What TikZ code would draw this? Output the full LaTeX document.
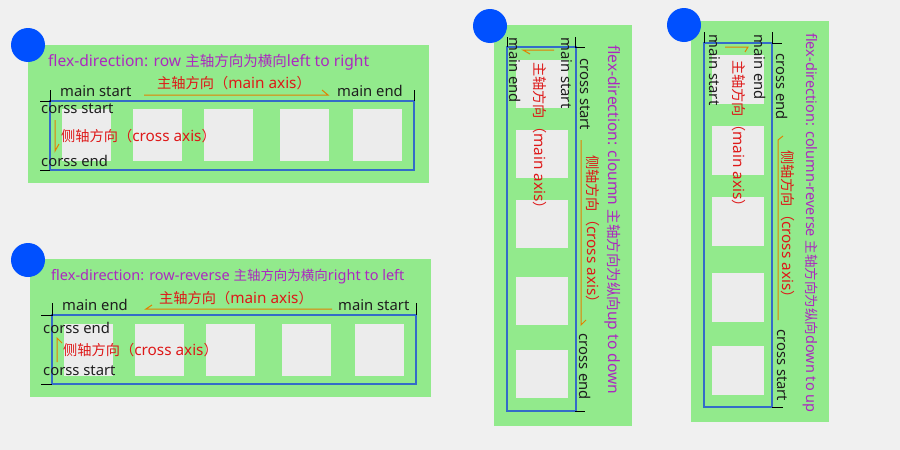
\documentclass[tikz,border=0pt]{standalone}
\usepackage{fontspec}
\setmainfont{Noto Sans}
\newfontfamily\cjk[Scale=0.93]{Noto Sans CJK SC}
\usepackage{xcolor}
\usetikzlibrary{positioning}
\definecolor{bgray}{RGB}{240,240,240}
\definecolor{pgreen}{RGB}{146,234,140}
\definecolor{itemgray}{RGB}{236,236,236}
\definecolor{framblue}{RGB}{52,108,200}
\definecolor{dotblue}{RGB}{0,80,255}
\definecolor{titlepurple}{RGB}{172,40,192}
\definecolor{axisred}{RGB}{222,24,24}
\definecolor{axisorange}{RGB}{226,128,0}
\definecolor{lblblack}{RGB}{30,30,30}

\begin{document}
\begin{tikzpicture}[x=1pt,y=-1pt,
  panel/.style={fill=pgreen,draw=none},
  dot/.style={fill=dotblue,draw=none},
  frame/.style={draw=framblue,line width=2pt},
  item/.style={fill=itemgray,draw=none},
  tick/.style={draw=black,line width=0.8pt},
  axisline/.style={draw=axisorange,line width=1pt},
  ttl/.style={text=titlepurple,inner sep=0pt,anchor=west,font=\fontsize{15.6}{17}\selectfont},
  revttl/.style={ttl,font=\fontsize{14.5}{17}\selectfont},
  lbl/.style={text=lblblack,inner sep=0pt,anchor=west,font=\fontsize{14.8}{17}\selectfont},
  axislbl/.style={text=axisred,inner sep=0pt,anchor=west,font=\fontsize{15.3}{17}\selectfont}]
  \fill[bgray] (0,0) rectangle (900,450);
  \useasboundingbox (0,0) rectangle (900,450);

  % row
  \fill[panel] (28,45) rectangle (429,183);
  \fill[dot] (28,45) circle (17);
  \draw[frame] (50,101) rectangle (414,170);
  \foreach \x in {62,133,204,280,353} \fill[item] (\x,109) rectangle ++(49,52);
  \draw[tick] (50,90) -- (50,101) -- (40,101);
  \draw[tick] (414,90) -- (414,101);
  \draw[tick] (40,170) -- (50,170);
  \node[ttl] (rowtitle) at (48,62) {flex-direction: row {\cjk 主轴方向为横向}left to right};
  \node[lbl] (rowms) at (60,91) {main start};
  \node[lbl] (rowme) at (337,91) {main end};
  \node[axislbl] (rowmain) at (157,83) {{\cjk 主轴方向（}main axis{\cjk ）}};
  \draw[axisline] (144,95) -- (328,95) -- (322,90);
  \node[lbl] (rowcs) at (41,109) {corss start};
  \node[lbl] (rowce) at (41,161) {corss end};
  \node[axislbl] (rowcross) at (61,136) {{\cjk 侧轴方向（}cross axis{\cjk ）}};
  \draw[axisline] (55,120) -- (55,151) -- (59,144);

  % row-reverse
  \fill[panel] (30,259) rectangle (431,397);
  \fill[dot] (28,260) circle (17);
  \draw[frame] (52,315) rectangle (416,384);
  \foreach \x in {64,135,206,282,355} \fill[item] (\x,324) rectangle ++(49,52);
  \draw[tick] (52,303) -- (52,315) -- (41,315);
  \draw[tick] (416,303) -- (416,315);
  \draw[tick] (41,384) -- (52,384);
  \node[revttl] (revtitle) at (51,277) {flex-direction: row-reverse {\cjk 主轴方向为横向}right to left};
  \node[lbl] (revme) at (62,305) {main end};
  \node[lbl] (revms) at (338,305) {main start};
  \node[axislbl] (revmain) at (159,298) {{\cjk 主轴方向（}main axis{\cjk ）}};
  \draw[axisline] (332,309) -- (146,309) -- (152,305);
  \node[lbl] (revce) at (43,328) {corss end};
  \node[lbl] (revcs) at (43,371) {corss start};
  \node[axislbl] (revcross) at (63,350) {{\cjk 侧轴方向（}cross axis{\cjk ）}};
  \draw[axisline] (57,362) -- (57,338) -- (62,343);

  % column
  \fill[panel] (494,25) rectangle (632,426);
  \fill[dot] (490,26) circle (17);
  \draw[frame] (507,47) rectangle (576,411);
  \foreach \y in {60,130,200,277,350} \fill[item] (516,\y) rectangle ++(52,48);
  \draw[tick] (507,37) -- (507,47);
  \draw[tick] (575,37) -- (575,47) -- (585,47);
  \draw[tick] (575,411) -- (585,411);
  \node[ttl,rotate=-90] (coltitle) at (613,45) {flex-direction: cloumn {\cjk 主轴方向为纵向}up to down};
  \node[lbl,rotate=-90] (colcs) at (585,58) {cross start};
  \node[lbl,rotate=-90] (colce) at (585,333) {cross end};
  \node[axislbl,rotate=-90] (colcross) at (593,155) {{\cjk 侧轴方向（}cross axis{\cjk ）}};
  \draw[axisline] (581,140) -- (581,325) -- (586,320);
  \node[lbl,rotate=-90] (colms) at (567,37) {main start};
  \node[lbl,rotate=-90] (colme) at (515,37) {main end};
  \node[axislbl,rotate=-90] (colmain) at (540,62) {{\cjk 主轴方向（}main axis{\cjk ）}};
  \draw[axisline] (530,54) -- (523,50) -- (554,50);

  % column-reverse
  \fill[panel] (691,21) rectangle (829,422);
  \fill[dot] (684,25) circle (17);
  \draw[frame] (704,43) rectangle (772,407);
  \foreach \y in {55,126,197,273,346} \fill[item] (712,\y) rectangle ++(52,49);
  \draw[tick] (704,32) -- (704,43);
  \draw[tick] (772,32) -- (772,43) -- (782,43);
  \draw[tick] (772,407) -- (783,407);
  \node[revttl,rotate=-90] (crtitle) at (810,33) {flex-direction: column-reverse {\cjk 主轴方向为纵向}down to up};
  \node[lbl,rotate=-90] (crce) at (782,53) {cross end};
  \node[lbl,rotate=-90] (crcs) at (782,329) {cross start};
  \node[axislbl,rotate=-90] (crcross) at (788,150) {{\cjk 侧轴方向（}cross axis{\cjk ）}};
  \draw[axisline] (778,320) -- (778,140) -- (783,136);
  \node[lbl,rotate=-90] (crme) at (760,34) {main end};
  \node[lbl,rotate=-90] (crms) at (715,34) {main start};
  \node[axislbl,rotate=-90] (crmain) at (739,60) {{\cjk 主轴方向（}main axis{\cjk ）}};
  \draw[axisline] (725,47) -- (748,47) -- (745,52);
\end{tikzpicture}
\end{document}
